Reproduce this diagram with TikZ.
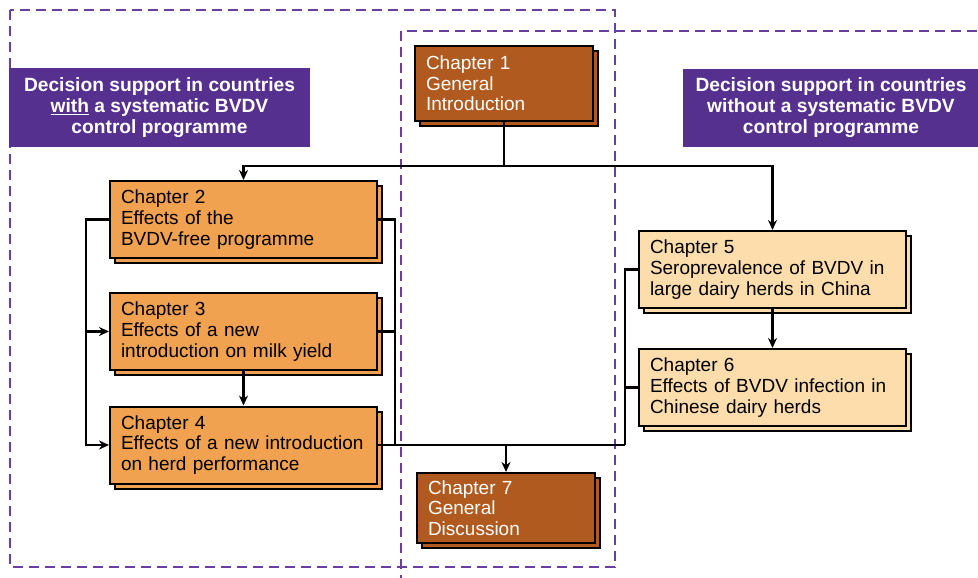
\documentclass[tikz,border=0pt]{standalone}
\usepackage{fontspec}
\setmainfont{Liberation Sans}
\usetikzlibrary{shadows,arrows.meta}

\definecolor{darkbrown}{HTML}{B05A1F}
\definecolor{chaporange}{HTML}{F1A250}
\definecolor{chappeach}{HTML}{FCDDAB}
\definecolor{bannerpurple}{HTML}{56308E}
\definecolor{dashpurple}{HTML}{6B3FA0}

\begin{document}
\begin{tikzpicture}[
        x=1pt, y=-1pt,
        >={Stealth[length=10pt,width=9pt]},
        line width=2.2pt,
        every node/.style={font=\fontsize{19}{20.7}\selectfont},
        chap/.style={draw=black, line width=2pt, minimum width=267pt,
            minimum height=77pt, text width=245pt, align=left, inner sep=0pt,
            copy shadow={shadow xshift=5pt, shadow yshift=-5pt}},
        chapsmall/.style={chap, minimum width=178pt, text width=156pt,
            fill=darkbrown, text=white},
        region/.style={draw=dashpurple, dash pattern=on 10pt off 6pt, line width=2.5pt},
        banner/.style={fill=bannerpurple, text=white, align=center, inner sep=0pt,
            font=\bfseries\fontsize{19.2}{21}\selectfont}
    ]

        \clip (0,0) rectangle (978,578);

        % Regioni tratteggiate
        \draw[region] (10,10) rectangle (615,567);
        \draw[region] (401,31) rectangle (1000,600);

        % Titoli
        \node[banner, minimum width=301pt, minimum height=79pt] (withbox) at (159.5,107.5)
            {Decision support in countries\\\underline{with} a systematic BVDV\\control programme};
        \node[banner, minimum width=296pt, minimum height=78pt] (withoutbox) at (831,108)
            {Decision support in countries\\without a systematic BVDV\\control programme};

        % Capitoli
        \node[chapsmall, minimum height=75pt] (ch1) at (504,83.5)
            {Chapter 1\\General\\Introduction};
        \node[chap, fill=chaporange] (ch2) at (243.5,219.5)
            {Chapter 2\\Effects of the\\BVDV-free programme};
        \node[chap, fill=chaporange] (ch3) at (243.5,331.5)
            {Chapter 3\\Effects of a new\\introduction on milk yield};
        \node[chap, fill=chaporange] (ch4) at (243.5,445)
            {Chapter 4\\Effects of a new introduction\\on herd performance};
        \node[chap, fill=chappeach] (ch5) at (772.5,269.5)
            {Chapter 5\\Seroprevalence of BVDV in\\large dairy herds in China};
        \node[chap, fill=chappeach] (ch6) at (772.5,387.5)
            {Chapter 6\\Effects of BVDV infection in\\Chinese dairy herds};
        \node[chapsmall, minimum height=70pt] (ch7) at (506,508)
            {Chapter 7\\General\\Discussion};

        % Collegamenti dal capitolo 1
        \coordinate (split) at (ch1.south |- 0,166);
        \draw (ch1.south) -- (split);
        \draw[->] (split) -| (ch2.north);
        \draw[->] (split) -| (ch5.north);

        % Collegamenti a sinistra
        \coordinate (lbus) at ([xshift=-23pt]ch2.west);
        \draw[->] (ch2.west) -- (lbus) |- (ch4.west);
        \draw[->] (lbus |- ch3.west) -- (ch3.west);
        \draw[->] (ch3.south) -- (ch4.north);

        % Collegamenti a destra
        \coordinate (rbus) at ([xshift=17pt]ch2.east);
        \coordinate (mbus) at ([xshift=-13pt]ch4.east -| ch5.west);
        \draw (ch2.east) -- (rbus) -- (rbus |- ch4.east);
        \draw (ch3.east) -- (rbus |- ch3.east);
        \draw (ch4.east) -- (mbus);
        \draw (ch5.west) -| (mbus);
        \draw (ch6.west) -- (mbus |- ch6.west);
        \draw[->] (ch7.north |- mbus) -- (ch7.north);

        % Verso il capitolo 7
        \draw[->] (ch5.south) -- (ch6.north);

    \end{tikzpicture}
\end{document}
